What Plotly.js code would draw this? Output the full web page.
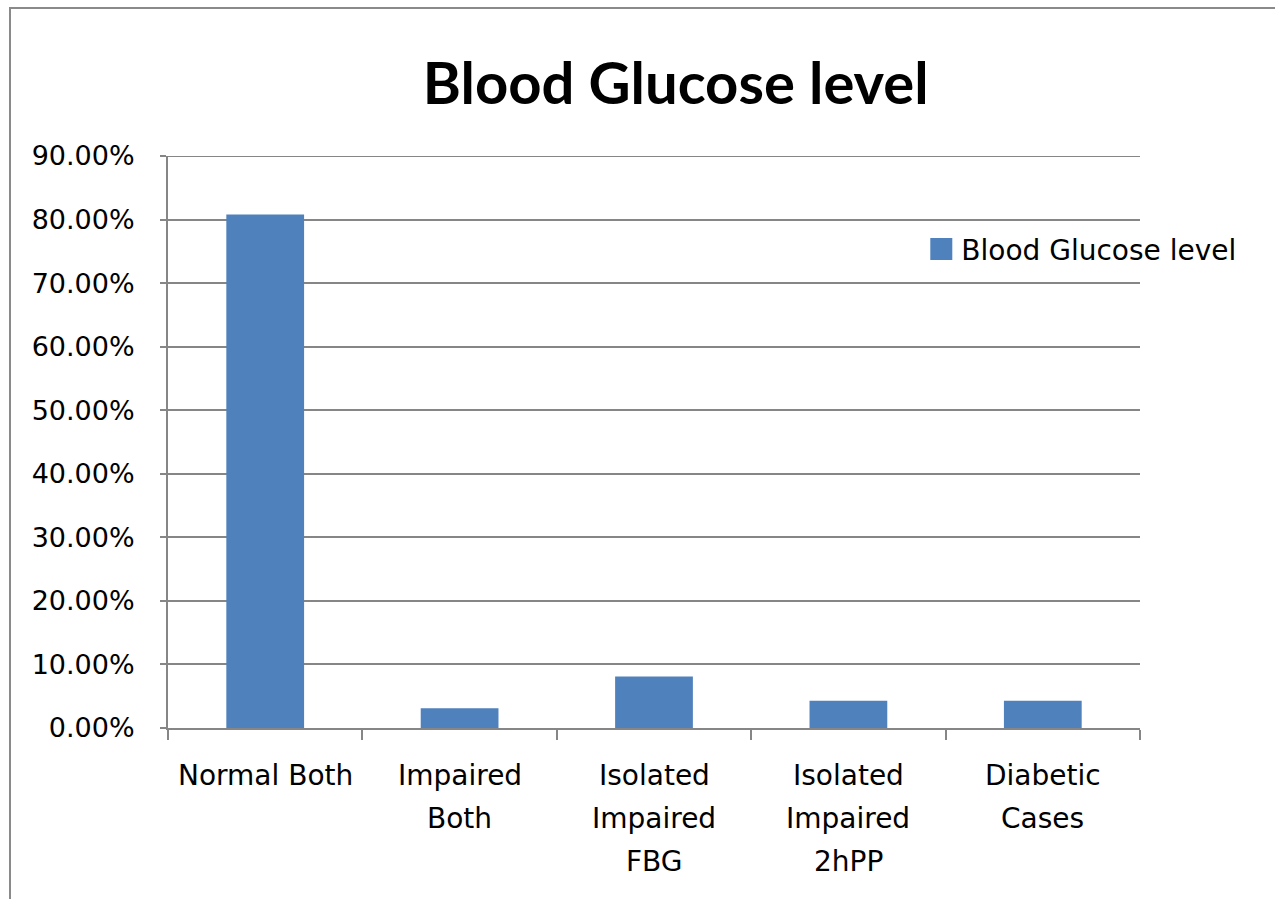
<!DOCTYPE html>
<html>
<head>
<meta charset="utf-8">
<script src="https://cdn.plot.ly/plotly-3.0.1.min.js"></script>
<style>
  html, body { margin: 0; padding: 0; background: #ffffff; }
  #wrap { position: relative; width: 1275px; height: 899px; overflow: hidden; }
  #chart { position: absolute; left: 0; top: 0; width: 1275px; height: 899px; }
  #frame { position: absolute; left: 9px; top: 7px; width: 1300px; height: 1000px;
           border-left: 2px solid #8a8a8a; border-top: 2px solid #8a8a8a; pointer-events: none; }
</style>
</head>
<body>
<div id="wrap">
  <div id="chart"></div>
  <div id="frame"></div>
</div>
<script>
const chartTitle = "Blood Glucose level";
const seriesName = "Blood Glucose level";
const categories = ["Normal Both", "Impaired<br>Both", "Isolated<br>Impaired<br>FBG", "Isolated<br>Impaired<br>2hPP", "Diabetic<br>Cases"];
const values = [0.808, 0.031, 0.081, 0.043, 0.043];
const yTickValues = [0, 0.1, 0.2, 0.3, 0.4, 0.5, 0.6, 0.7, 0.8, 0.9];
const yMax = 0.9;

const font = "DejaVu Sans, Verdana, sans-serif";
const data = [{
  type: "bar",
  x: categories,
  y: values,
  name: seriesName,
  marker: { color: "#4F81BD" },
  showlegend: true,
  hoverinfo: "x+y"
}];

// category labels drawn line by line, anchored to the category scale
const annotations = [];
categories.forEach(function (cat) {
  cat.split("<br>").forEach(function (line, i) {
    annotations.push({
      xref: "x", yref: "paper",
      x: cat, y: 0,
      text: line,
      showarrow: false,
      xanchor: "center", yanchor: "middle",
      yshift: -(47 + 43 * i),
      font: { family: font, size: 28, color: "#000000" }
    });
  });
});

const layout = {
  width: 1275,
  height: 899,
  paper_bgcolor: "rgba(0,0,0,0)",
  plot_bgcolor: "#ffffff",
  margin: { l: 168, r: 135, t: 156, b: 171, pad: 0 },
  title: {
    text: "<b>" + chartTitle + "</b>",
    font: { family: "Lato, Open Sans, sans-serif", size: 58, color: "#000000" },
    x: 0.53, xanchor: "center",
    y: 0.907, yanchor: "middle"
  },
  bargap: 0.6,
  showlegend: true,
  legend: {
    x: 0.775, xanchor: "left",
    y: 0.837, yanchor: "middle",
    bgcolor: "rgba(255,255,255,0)",
    font: { family: font, size: 28, color: "#000000" },
    itemwidth: 30
  },
  annotations: annotations,
  shapes: [{
    type: "line", xref: "paper", yref: "y",
    x0: 0, x1: 1, y0: yMax, y1: yMax,
    line: { color: "#868686", width: 2 },
    layer: "below"
  }],
  xaxis: {
    type: "category",
    showline: true,
    linecolor: "#868686",
    linewidth: 2,
    ticks: "outside",
    tickson: "boundaries",
    ticklen: 10,
    tickwidth: 2,
    tickcolor: "#868686",
    showgrid: false,
    showticklabels: false,
    fixedrange: true
  },
  yaxis: {
    range: [0, yMax],
    tickvals: yTickValues,
    tickformat: ".2%",
    showline: true,
    linecolor: "#868686",
    linewidth: 2,
    ticks: "outside",
    ticklen: 6,
    tickwidth: 2,
    tickcolor: "#868686",
    showgrid: true,
    gridcolor: "#868686",
    gridwidth: 2,
    zeroline: false,
    tickfont: { family: font, size: 27, color: "#000000" },
    ticklabelstandoff: 20,
    fixedrange: true
  }
};

Plotly.newPlot("chart", data, layout, { displayModeBar: false, staticPlot: true }).then(function (gd) {
  // enlarge the legend swatch to a square key like the reference
  gd.querySelectorAll(".legendpoints path").forEach(function (p) {
    p.setAttribute("d", "M11,11H-11V-11H11Z");
  });
});
</script>
</body>
</html>
